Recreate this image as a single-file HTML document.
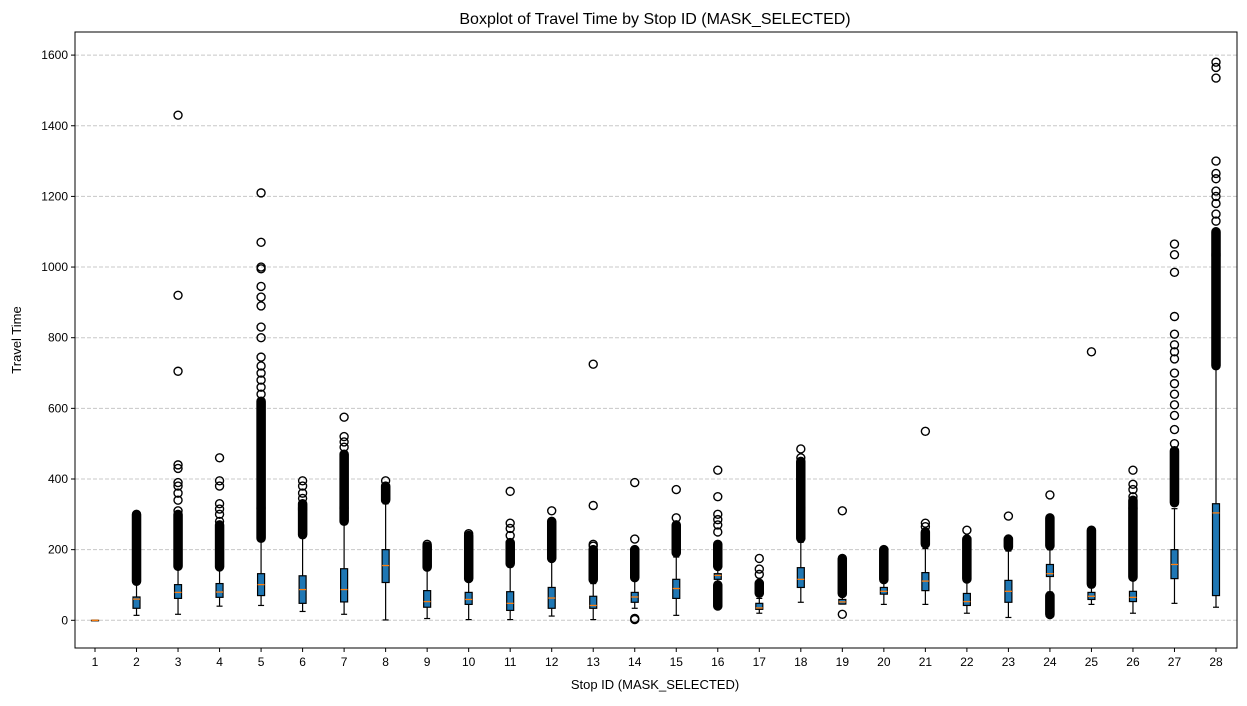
<!DOCTYPE html>
<html><head><meta charset="utf-8"><style>
body{margin:0;background:#fff;}
svg text{font-family:"Liberation Sans","DejaVu Sans",sans-serif;fill:#000;}
</style></head><body>
<svg id="chart" width="1247" height="701" xmlns="http://www.w3.org/2000/svg">
<rect width="1247" height="701" fill="#fff"/>
<g id="grid"></g><g id="marks"></g><g id="axes"></g>
<text x="655" y="24" text-anchor="middle" font-size="16">Boxplot of Travel Time by Stop ID (MASK_SELECTED)</text>
<text x="655" y="689" text-anchor="middle" font-size="13">Stop ID (MASK_SELECTED)</text>
<text transform="translate(21,340) rotate(-90)" text-anchor="middle" font-size="13">Travel Time</text>
</svg>
<script>
const stops=[1,2,3,4,5,6,7,8,9,10,11,12,13,14,15,16,17,18,19,20,21,22,23,24,25,26,27,28];
const whiskLow=[0,14,17,40,42,25,17,1,5,2,2,12,2,34,14,104,20,51,46,45,45,20,8,80,45,20,48,37];
const q1=[0,34,62,65,70,48,52,107,37,45,28,34,34,51,62,116,31,93,46,74,84,42,51,124,59,53,118,70];
const median=[0,60,79,80,101,87,87,155,53,59,48,63,42,66,90,127,35,116,52,82,111,53,82,132,68,65,158,304];
const q3=[0,66,101,104,132,126,146,200,84,79,81,93,68,79,116,132,48,149,59,93,135,76,113,158,79,82,200,330];
const whiskHigh=[0,105,148,149,225,235,275,330,143,113,151,172,104,115,179,146,62,221,71,109,203,112,196,200,93,113,316,715];
const denseBands=[[],[[108,300]],[[150,300]],[[150,270]],[[230,620]],[[240,330]],[[280,470]],[[340,380]],[[150,210]],[[118,240]],[[160,220]],[[175,280]],[[115,200]],[[120,200],[0,5]],[[190,270]],[[150,215],[40,100]],[[75,105]],[[230,450]],[[75,175]],[[115,200]],[[215,250]],[[115,230]],[[205,230]],[[210,290],[15,70]],[[100,255]],[[120,340]],[[330,480]],[[720,1100]]];
const outliers=[[],[],[310,340,360,380,390,430,440,705,920,1430],[280,300,315,330,380,395,460],[640,660,680,700,720,745,800,830,890,915,945,995,1000,1070,1210],[345,360,380,395],[490,505,520,575],[395],[215],[245],[240,260,275,365],[310],[210,215,325,725],[230,390],[290,370],[250,270,285,300,350,425],[130,145,175],[460,485],[17,310],[],[265,275,535],[255],[295],[355],[760],[350,370,385,425],[500,540,580,610,640,670,700,740,760,780,810,860,985,1035,1065],[1130,1150,1180,1200,1215,1250,1265,1300,1535,1565,1580]];
const yTicks=[0,200,400,600,800,1000,1200,1400,1600];
const NS='http://www.w3.org/2000/svg';
const L=75,R=1237,T=32,B=648;
function y(v){return 620.3-v*0.35325;}
function x(s){return 95+(s-1)*(1216-95)/27;}
function el(tag,attrs,parent){const e=document.createElementNS(NS,tag);for(const k in attrs)e.setAttribute(k,attrs[k]);parent.appendChild(e);return e;}
const grid=document.getElementById('grid'),marks=document.getElementById('marks'),axes=document.getElementById('axes');
yTicks.forEach(v=>{
 const g=el('line',{x1:L,x2:R,y1:y(v),y2:y(v),stroke:'#c8c8c8','stroke-width':1,'stroke-dasharray':'4,2'},grid);
 
 
 const t=el('line',{x1:L-4,x2:L,y1:y(v),y2:y(v),stroke:'#000'},axes);
 
 
 const lb=el('text',{x:L-7,y:y(v)+4,'text-anchor':'end','font-size':12},axes);lb.textContent=v;
 
 
});
stops.forEach((s,i)=>{
 const cx=x(s);
 const g=el('g',{},marks);
 
 
 denseBands[i].forEach(b=>{for(let p=y(b[1]);p<=y(b[0])+0.01;p+=1){el('circle',{cx:cx,cy:p,r:4,fill:'none',stroke:'#000','stroke-width':1.5},g);}});
 outliers[i].forEach(v=>{const c=el('circle',{cx:cx,cy:y(v),r:4,fill:'none',stroke:'#000','stroke-width':1.4},g);
  
  });
 el('line',{x1:cx,x2:cx,y1:y(whiskLow[i]),y2:y(q1[i]),stroke:'#000','stroke-width':1.2},g);
 el('line',{x1:cx,x2:cx,y1:y(q3[i]),y2:y(whiskHigh[i]),stroke:'#000','stroke-width':1.2},g);
 el('line',{x1:cx-3,x2:cx+3,y1:y(whiskLow[i]),y2:y(whiskLow[i]),stroke:'#000','stroke-width':1.2},g);
 el('line',{x1:cx-3,x2:cx+3,y1:y(whiskHigh[i]),y2:y(whiskHigh[i]),stroke:'#000','stroke-width':1.2},g);
 el('rect',{x:cx-3.5,y:y(q3[i]),width:7,height:Math.max(y(q1[i])-y(q3[i]),0.5),fill:'#1f77b4',stroke:'#000','stroke-width':1.2},g);
 el('line',{x1:cx-3.5,x2:cx+3.5,y1:y(median[i]),y2:y(median[i]),stroke:'#ff7f0e','stroke-width':1.3},g);
 const t=el('line',{x1:cx,x2:cx,y1:B,y2:B+4,stroke:'#000'},axes);
 
 
 const lb=el('text',{x:cx,y:B+18,'text-anchor':'middle','font-size':12},axes);lb.textContent=s;
 
 
});
const fr=el('rect',{x:L,y:T,width:R-L,height:B-T,fill:'none',stroke:'#000','stroke-width':1},axes);


</script>
</body></html>
